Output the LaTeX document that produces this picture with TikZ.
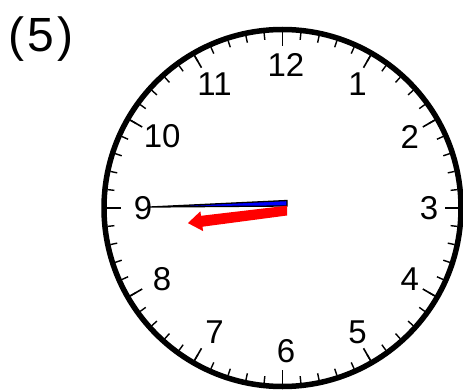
\documentclass[tikz,border=0pt]{standalone}
\usepackage{fontspec}
\setmainfont{Liberation Sans}
\usetikzlibrary{calc}
\begin{document}
\begin{tikzpicture}[x=1pt,y=1pt,
  num/.style={inner sep=0pt, font=\fontsize{33}{33}\selectfont},
  lbl/.style={inner sep=0pt, font=\fontsize{48}{48}\selectfont},
  minortick/.style={line width=1.4pt},
  majortick/.style={line width=1.6pt},
  rim/.style={line width=5.5pt},
  minutehand/.style={fill=blue, draw=black, line width=1.3pt, line join=miter},
  hourhand/.style={fill=red}]
\useasboundingbox (0,0) rectangle (463,389);
\clip (0,0) rectangle (463,389);
\coordinate (c) at (282.5,181);
\coordinate (nc) at (286,181);
% ticks
\foreach \i in {0,...,59} {
  \draw[minortick, shift={(c)}] (\i*6:176) -- (\i*6:169);
}
\foreach \i in {0,...,11} {
  \draw[majortick, shift={(c)}] (\i*30:176) -- (\i*30:162);
}
% rim
\draw[rim] (c) circle[radius=178.5];
% numbers
\foreach \n in {1,...,12} {
  \node[num] (n\n) at ($(nc)+({90-30*\n}:143)$) {\n};
}
% label
\node[lbl] (label) at (41,350) {(\kern3pt5\kern3pt)};
% minute hand
\draw[minutehand] (287,188.5) -- (287,183) -- (150,182) -- cycle;
% hour hand
\fill[hourhand] (287,183.3) -- (201.0,173.2) -- (200.4,177.7) -- (187.9,165.9)
  -- (203.1,157.9) -- (202.5,162.3) -- (287,173.5) -- cycle;
\end{tikzpicture}
\end{document}
